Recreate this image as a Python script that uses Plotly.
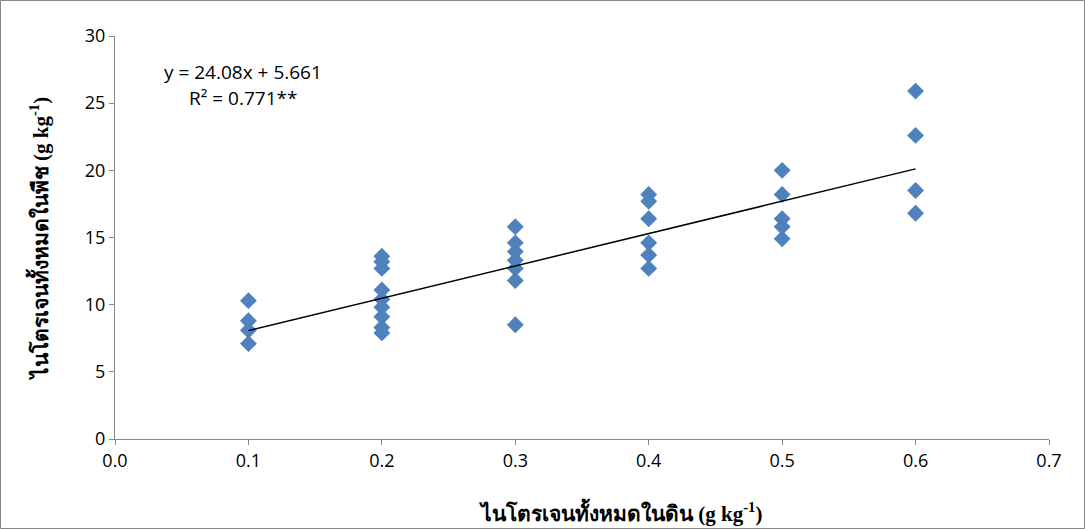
import plotly.graph_objects as go

# Data
soil_n = ([0.1] * 4 + [0.2] * 9 + [0.3] * 7 + [0.4] * 6 + [0.5] * 5 + [0.6] * 4)
plant_n = [10.3, 8.8, 8.1, 7.1,
           13.6, 13.2, 12.7, 11.1, 10.4, 9.8, 9.1, 8.3, 7.9,
           15.8, 14.6, 13.95, 13.3, 12.7, 11.8, 8.5,
           18.2, 17.7, 16.4, 14.6, 13.7, 12.7,
           20.0, 18.2, 16.4, 15.8, 14.9,
           25.9, 22.6, 18.5, 16.8]

slope = 24.08
intercept = 5.661
r2_label = "0.771**"
trend_x = [0.1, 0.6]
trend_y = [slope * x + intercept for x in trend_x]

x_ticks = [0.0, 0.1, 0.2, 0.3, 0.4, 0.5, 0.6, 0.7]
y_ticks = [0, 5, 10, 15, 20, 25, 30]

x_title = "<b>ไนโตรเจนทั้งหมดในดิน (g kg<sup>-1</sup>)</b>"
y_title = "<b>ไนโตรเจนทั้งหมดในพืช (g kg<sup>-1</sup>)</b>"

fig = go.Figure()
fig.add_trace(go.Scatter(
    x=soil_n, y=plant_n, mode="markers",
    marker=dict(symbol="diamond", size=13, color="#4F81BD", line=dict(width=0)),
    showlegend=False, cliponaxis=False))
fig.add_trace(go.Scatter(
    x=trend_x, y=trend_y, mode="lines",
    line=dict(color="black", width=1.5), showlegend=False))

W, H = 1085, 529
ml, mr, mt, mb = 115, 36, 36, 90
pw, ph = W - ml - mr, H - mt - mb

axis_font = dict(family="Open Sans, Noto Sans, sans-serif", size=18, color="#000")
ann_font = dict(family="Open Sans, Noto Sans, sans-serif", size=19, color="#000")
title_font = dict(family="Times New Roman, Liberation Serif, serif", size=21, color="#000")

fig.update_layout(
    width=W, height=H,
    margin=dict(l=ml, r=mr, t=mt, b=mb),
    paper_bgcolor="white", plot_bgcolor="white",
    xaxis=dict(range=[0, 0.7], tickvals=x_ticks, ticktext=[f"{v:.1f}" for v in x_ticks],
               showgrid=False, zeroline=False, showline=True, linecolor="#868686", linewidth=1,
               ticks="outside", ticklen=5, tickcolor="#868686", tickfont=axis_font),
    yaxis=dict(range=[0, 30], tickvals=y_ticks,
               showgrid=False, zeroline=False, showline=True, linecolor="#868686", linewidth=1,
               ticks="outside", ticklen=5, tickcolor="#868686", tickfont=axis_font,
               title=dict(text=y_title, font=title_font, standoff=30)),
    annotations=[
        dict(xref="paper", yref="paper", x=(243 - ml) / pw, y=1 - (72 - mt) / ph,
             xanchor="center", yanchor="middle",
             text=f"y = {slope}x + {intercept}", showarrow=False, font=ann_font),
        dict(xref="paper", yref="paper", x=(243 - ml) / pw, y=1 - (98 - mt) / ph,
             xanchor="center", yanchor="middle",
             text=f"R² = {r2_label}", showarrow=False, font=ann_font),
        dict(xref="paper", yref="paper", x=(620 - ml) / pw, y=1 - (512 - mt) / ph,
             xanchor="center", yanchor="middle",
             text=x_title, showarrow=False, font=title_font),
    ],
    shapes=[dict(type="rect", xref="paper", yref="paper",
                 x0=(0.5 - ml) / pw, x1=(W - 0.5 - ml) / pw,
                 y0=-(H - 0.5 - mt - ph) / ph, y1=1 + (mt - 0.5) / ph,
                 line=dict(color="#868686", width=1), layer="below")],
)

fig.write_html("out.html")
